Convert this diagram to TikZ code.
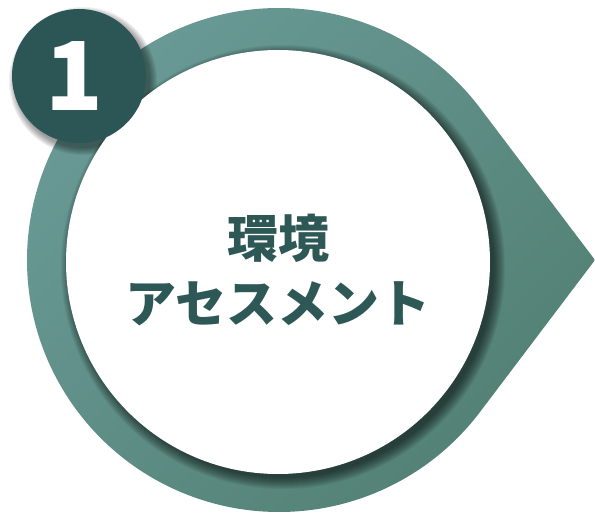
\documentclass[tikz,border=0pt]{standalone}
\usepackage{fontspec}
\newfontfamily\jpfont{Noto Sans CJK JP}
\definecolor{ringlight}{RGB}{106, 155, 151}
\definecolor{ringdark}{RGB}{82, 128, 116}
\definecolor{badgeteal}{RGB}{44, 86, 86}
\definecolor{labelteal}{RGB}{46, 88, 86}
\usetikzlibrary{calc}

\begin{document}
\begin{tikzpicture}[x=1pt, y=1pt]
  \useasboundingbox (0,0) rectangle (595,515);

  % Ring with pointer
  \shade[top color=ringlight, bottom color=ringdark, shading angle=45]
    (595,255) -- (480,407) arc[start angle=37.1, end angle=322.9, radius=252] -- cycle;

  % Soft shadow of the inner disc
  \foreach \k in {1,...,12}
    \fill[black, opacity=0.055] (283,248) circle[radius=210+\k];

  % Soft shadow of the badge
  \foreach \k in {1,...,8}
    \fill[black, opacity=0.06] (83,434) circle[radius=66+\k];

  % Inner disc
  \node[circle, fill=white, minimum size=424, inner sep=0] (disc) at (278,253) {};

  % Badge
  \node[circle, fill=badgeteal, minimum size=134, inner sep=0] (badge) at (79,439) {};
  \node[text=white, font=\jpfont\bfseries\fontsize{95}{95}\selectfont, inner sep=0] (num) at (74,439) {1};

  % Title
  \node[align=center, text=labelteal, font=\jpfont\bfseries\fontsize{51}{65}\selectfont] (title) at (278,245) {環境\\アセスメント};
\end{tikzpicture}
\end{document}
